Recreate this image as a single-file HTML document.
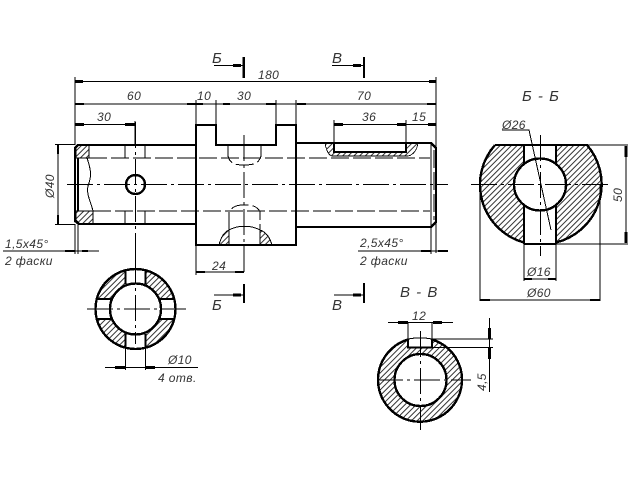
<!DOCTYPE html>
<html><head><meta charset="utf-8">
<style>
html,body{margin:0;padding:0;background:#fff;width:640px;height:480px;overflow:hidden}
svg{display:block}
text{font-family:"Liberation Sans",sans-serif;font-style:italic;font-size:12px;fill:#333;letter-spacing:.4px}
.t{stroke:#000;stroke-width:2.4;fill:none}
.n{stroke:#000;stroke-width:1;fill:none}
.d{stroke:#000;stroke-width:1;fill:none;stroke-dasharray:18 4}
.c{stroke:#000;stroke-width:1;fill:none;stroke-dasharray:26 4 3 4}
.a{fill:#000;stroke:none}
</style></head><body>
<svg width="640" height="480" viewBox="0 0 640 480" shape-rendering="crispEdges">
<defs>
<pattern id="h" width="4" height="4" patternUnits="userSpaceOnUse" patternTransform="rotate(45)">
<rect width="4" height="4" fill="#fff"/><rect width="1" height="4" fill="#333"/>
</pattern>
<clipPath id="bb"><circle cx="540.500" cy="184.500" r="60"/></clipPath>
</defs>

<g>
<!-- hatches main view -->
<path d="M78 145H89V158H76V148Z" fill="url(#h)" stroke="#000"/>
<path d="M76 211H93V224H80L76 220Z" fill="url(#h)" stroke="#000"/>
<path d="M325 143H334V152H406V143H418C417 149 414 155 408 156H332C328 155 326 149 325 143Z" fill="url(#h)" stroke="#000" stroke-width=".8"/>
<path d="M219 245C221 237 224 232 229 230V245Z" fill="url(#h)" stroke="#000" stroke-width="1"/>
<path d="M260 245V230C266 232 270 238 272 245Z" fill="url(#h)" stroke="#000" stroke-width="1"/>
<path d="M229 230C238 225 251 225 260 230" class="n"/>

<!-- main outlines -->
<path class="t" d="M196 145H78L75 148V221L79 224H196"/>
<path class="t" d="M78 158V211" stroke-width="3"/>
<path class="t" d="M196 245V125H216V145H276V125H296V245Z"/>
<path class="t" d="M296 143H431L436 148V222L431 227H296"/>
<path class="t" d="M334 143V152H406V143"/>
<path class="n" d="M431 143V227"/>
<circle class="t" cx="135.500" cy="184.500" r="9.500"/>
<path class="n" d="M87 158C92 172 91 178 88 186C86 194 91 202 93 211"/>

<!-- hidden lines -->
<path class="d" d="M89 158H430M93 211H430"/>
<path class="d" d="M125 145V158M145 145V158M125 211V224M145 211V224" stroke-dasharray="4 2"/>
<path class="d" d="M228 146V156C230 164 236 165 244 165C252 165 259 164 261 156V146" stroke-dasharray="6 3"/>
<path class="d" d="M229 230V212C233 205 240 205 244 205C249 205 257 205 260 212V230" stroke-dasharray="6 3"/>
<path class="d" d="M434 150V220" stroke-dasharray="8 2"/>

<!-- centre lines -->
<path class="c" d="M67 184.500H448"/>
<path class="c" d="M135.500 122V270" stroke-dasharray="12 3 3 3"/>
<path class="c" d="M244 135V272" stroke-dasharray="22 3 3 3"/>

<!-- dimensions -->
<path class="n" d="M75 77V145M436 77V253M75 81.500H436M75 104H196M196 100V125M196 104H296M216 100V145M276 100V125M296 100V125M296 104H436M75 124.500H135M135 121V145M334 120V143M406 120V143M334 124.500H436"/>
<path class="n" d="M55 144.500H75M55 224.500H75M58 145V224"/>
<path class="n" d="M3 251H99M75 224V254M78 224V254"/>
<path class="n" d="M358 251H448M431 227V254"/>
<path class="n" d="M196 245V275M196 272H244"/>
<!-- arrows -->
<path class="a" d="M75 80H83V83H75ZM429 80H436V83H429ZM75 103H84V105H75ZM187 103H196V105H187ZM196 103H203V105H196ZM223 103H230V105H223ZM266 103H276V105H266ZM297 103H306V105H297ZM427 103H436V105H427ZM75 123H84V126H75ZM125 123H135V126H125ZM334 123H343V126H334ZM397 123H406V126H397ZM428 123H436V126H428ZM57 145H59V154H57ZM57 215H59V224H57ZM65 250H75V252H65ZM82 250H88V252H82ZM421 250H431V252H421ZM438 250H448V252H438ZM196 271H205V273H196ZM235 271H244V273H235Z"/>

<!-- section marks -->
<path class="n" d="M214 65.500H243M332 65.500H363M214 295H243M334 295H363"/>
<path class="t" d="M243.800 57V78M364 57V78M244 284V303M364 283V303"/>
<path class="a" d="M233 64H241V67H233ZM353 64H361V67H353ZM233 293.500H241V296.500H233ZM353 293.500H361V296.500H353Z"/>

<!-- Section Б-Б -->
<g clip-path="url(#bb)">
<rect x="478" y="145" width="125" height="100" fill="url(#h)"/>
</g>
<rect x="524" y="145" width="32" height="99" fill="#fff"/>
<circle cx="540" cy="184.500" r="26" fill="#fff"/>
<path class="t" d="M495 145H587A60 60 0 0 1 556 242.500M524 242.500A60 60 0 0 1 495 145M524 244H556"/>
<path class="t" d="M524 145V163M556 145V163M524 206V244M556 206V244"/>
<circle class="t" cx="540" cy="184.500" r="26"/>
<path class="c" d="M471 184.500H608" stroke-dasharray="20 4 8 4"/>
<path class="c" d="M540.500 135V256" stroke-dasharray="22 4 3 4"/>
<path class="n" d="M502 130H529L551 230"/>
<path class="n" d="M587 145H628M556 244H628M626 146V243"/>
<path class="a" d="M624.500 146H627.500V157H624.500ZM624.500 232H627.500V243H624.500Z"/>
<path class="n" d="M524 244V281M556 244V281M524 279H556"/>
<path class="a" d="M524 278H532V280H524ZM548 278H556V280H548Z"/>
<path class="n" d="M480 185V301M600 185V301M480 300H600"/>
<path class="a" d="M480 299H490V301H480ZM590 299H600V301H590Z"/>

<!-- small section -->
<circle cx="135.500" cy="309" r="40" fill="url(#h)"/>
<rect x="125.500" y="269" width="20" height="80" fill="#fff"/>
<rect x="95" y="299" width="81" height="20" fill="#fff"/>
<circle cx="135.500" cy="309" r="25.500" fill="#fff"/>
<circle class="t" cx="135.500" cy="309" r="40"/>
<circle class="t" cx="135.500" cy="309" r="25.500"/>
<path class="t" d="M125.500 270V284M145.500 270V284M125.500 334V348M145.500 334V348M96 299H111M96 319H111M160 299H175M160 319H175"/>
<path class="c" d="M87 309H186" stroke-dasharray="20 4 3 4"/>
<path class="c" d="M135.500 258V344" stroke-dasharray="7 3"/>
<path class="n" d="M125.500 348V370M145.500 348V370M105 367.500H198"/>
<path class="a" d="M115 366H125V369H115ZM146 366H155V369H146Z"/>

<!-- В-В section -->
<circle cx="420.500" cy="380" r="42" fill="url(#h)"/>
<rect x="408" y="336" width="24" height="11.500" fill="#fff"/>
<circle cx="420.500" cy="380" r="26" fill="#fff"/>
<path class="t" d="M408 339.500V347.500H432V339.500M408 339.500A42 42 0 1 0 432 339.500"/>
<path class="n" d="M408 339C416 337.500 424 337.500 432 339"/>
<circle class="t" cx="420.500" cy="380" r="26"/>
<path class="c" d="M377 380H471" stroke-dasharray="24 4 3 4"/>
<path class="c" d="M420.500 331V430" stroke-dasharray="26 4 3 4"/>
<path class="n" d="M408 322V340M432 322V340M388 322.500H453"/>
<path class="a" d="M398 321H408V324H398ZM433 321H442V324H433Z"/>
<path class="n" d="M432 339H493M432 347.500H493M489.500 318V392"/>
<path class="a" d="M488 328H491V339H488ZM488 348H491V359H488Z"/>
</g>

<!-- labels -->
<text x="258" y="79">180</text>
<text x="127" y="100">60</text>
<text x="197" y="100">10</text>
<text x="237" y="100">30</text>
<text x="357" y="100">70</text>
<text x="97" y="121">30</text>
<text x="362" y="121">36</text>
<text x="412" y="121">15</text>
<text x="54" y="198" transform="rotate(-90 54 198)">Ø40</text>
<text x="5" y="248">1,5x45°</text>
<text x="5" y="265">2 фаски</text>
<text x="212" y="270">24</text>
<text x="360" y="247">2,5x45°</text>
<text x="360" y="265">2 фаски</text>
<text x="212" y="63" style="font-size:15px">Б</text>
<text x="332" y="63" style="font-size:15px">В</text>
<text x="212" y="310" style="font-size:15px">Б</text>
<text x="332" y="310" style="font-size:15px">В</text>
<text x="522" y="101" style="font-size:15px;letter-spacing:1px">Б - Б</text>
<text x="400" y="297" style="font-size:15px;letter-spacing:1px">В - В</text>
<text x="502" y="129">Ø26</text>
<text x="622" y="202" transform="rotate(-90 622 202)">50</text>
<text x="527" y="276">Ø16</text>
<text x="527" y="297">Ø60</text>
<text x="168" y="364">Ø10</text>
<text x="158" y="382">4 отв.</text>
<text x="412" y="320">12</text>
<text x="486" y="391" transform="rotate(-90 486 391)">4,5</text>
</svg>
</body></html>
